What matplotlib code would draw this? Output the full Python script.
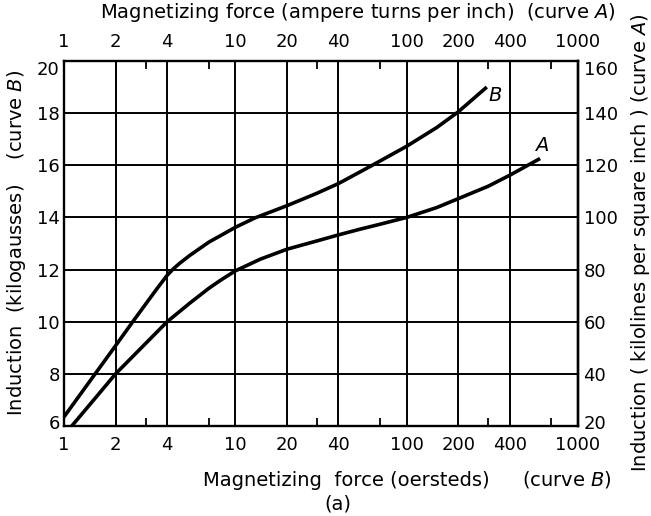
import matplotlib
matplotlib.use("Agg")
import matplotlib.pyplot as plt
from matplotlib.ticker import FixedLocator, FixedFormatter
from matplotlib.transforms import ScaledTranslation

plt.rcParams['font.family'] = 'DejaVu Sans'
plt.rcParams['mathtext.fontset'] = 'dejavusans'

# magnetizing force (oersteds / ampere turns per inch) vs induction (kilogausses)
force_b = [1.0, 1.52, 2.0, 2.52, 3.0, 3.5, 4.0, 4.35, 4.75, 5.44, 7.0, 10.0,
           13.0, 20.0, 30.0, 40.0, 61.0, 100.0, 150.0, 200.0, 293.5]
induction_b = [6.35, 8.0, 9.08, 10.0, 10.68, 11.28, 11.78, 12.03, 12.25, 12.55,
               13.05, 13.62, 13.98, 14.45, 14.93, 15.3, 15.95, 16.73, 17.45,
               18.05, 19.0]

force_a = [1.11, 1.5, 2.0, 3.0, 4.0, 5.44, 7.0, 8.15, 10.0, 14.0, 20.0, 30.0,
           40.0, 53.5, 70.0, 100.0, 150.0, 200.0, 300.0, 400.0, 601.0]
induction_a = [6.0, 7.02, 8.0, 9.17, 10.0, 10.72, 11.28, 11.58, 11.95, 12.4,
               12.78, 13.1, 13.33, 13.55, 13.74, 14.0, 14.38, 14.72, 15.2,
               15.62, 16.26]

x_ticks = [1, 2, 4, 10, 20, 40, 100, 200, 400, 1000]
x_tick_labels = ['1', '2', '4', '10', '20', '40', '100', '200', '400', '1000']
x_minor = [3, 7, 30, 70, 300, 700]
y_ticks = [6, 8, 10, 12, 14, 16, 18, 20]
y2_ticks = [20, 40, 60, 80, 100, 120, 140, 160]

fig = plt.figure(figsize=(6.51, 5.16), dpi=100)
ax = fig.add_axes([64 / 651, 1 - 426 / 516, 514 / 651, 365 / 516])

ax.plot(force_b, induction_b, color='black', lw=2.6, solid_capstyle='butt')
ax.plot(force_a, induction_a, color='black', lw=2.6, solid_capstyle='butt')
ax.text(328, 18.66, 'B', style='italic', fontsize=14, ha='center', va='center')
ax.text(615, 16.74, 'A', style='italic', fontsize=14, ha='center', va='center')

ax.set_xscale('log')
ax.set_xlim(1, 1000)
ax.set_ylim(6, 20)
ax.xaxis.set_major_locator(FixedLocator(x_ticks))
ax.xaxis.set_major_formatter(FixedFormatter(x_tick_labels))
ax.xaxis.set_minor_locator(FixedLocator(x_minor))
ax.xaxis.set_minor_formatter(FixedFormatter([''] * len(x_minor)))
ax.set_yticks(y_ticks)

ax.grid(True, which='major', color='black', lw=1.4)
for s in ax.spines.values():
    s.set_linewidth(1.7)

ax.tick_params(which='major', length=0, labelsize=13, pad=7,
               top=True, labeltop=True)
ax.tick_params(axis='y', which='major', pad=3)
ax.tick_params(which='minor', direction='in', length=6, width=1.3,
               top=True, bottom=True)

# right-hand scale in kilolines per square inch
ax2 = ax.secondary_yaxis('right', functions=(lambda b: 10 * b - 40,
                                             lambda k: (k + 40) / 10))
ax2.set_yticks(y2_ticks)
ax2.tick_params(length=0, labelsize=13, pad=4)
ax2.spines['right'].set_linewidth(1.7)

fig.canvas.draw()
# nudge the corner labels off the top/bottom edges
down = ScaledTranslation(0, -5 / 72, fig.dpi_scale_trans)
up = ScaledTranslation(0, 3 / 72, fig.dpi_scale_trans)
lbl = ax.get_yticklabels()
lbl[-1].set_transform(lbl[-1].get_transform() + down)
lbl[0].set_transform(lbl[0].get_transform() + up)
lbl2 = ax2.get_yticklabels()
lbl2[-1].set_transform(lbl2[-1].get_transform() + down)
lbl2[0].set_transform(lbl2[0].get_transform() + up)

fig.text(358 / 651, 1 - 13 / 516,
         r'Magnetizing force (ampere turns per inch)  (curve $\mathit{A}$)',
         fontsize=14, ha='center', va='center')
fig.text(346 / 651, 1 - 480 / 516, 'Magnetizing  force (oersteds)',
         fontsize=14, ha='center', va='center')
fig.text(567 / 651, 1 - 480 / 516, r'(curve $\mathit{B}$)',
         fontsize=14, ha='center', va='center')
fig.text(338 / 651, 1 - 504 / 516, '(a)', fontsize=14, ha='center', va='center')
fig.text(17 / 651, 1 - 243 / 516,
         r'Induction  (kilogausses)    (curve $\mathit{B}$)',
         fontsize=14, ha='center', va='center', rotation=90)
fig.text(640 / 651, 1 - 243 / 516,
         r'Induction ( kilolines per square inch ) (curve $\mathit{A}$)',
         fontsize=14, ha='center', va='center', rotation=90)

fig.savefig('out.png', dpi=100)
